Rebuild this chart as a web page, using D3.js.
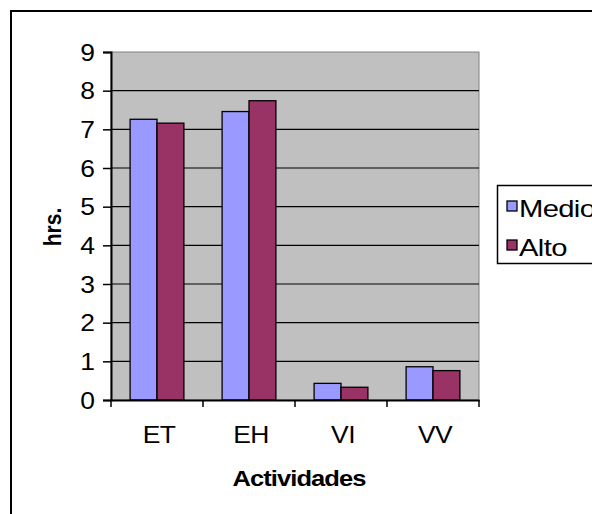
<!DOCTYPE html>
<html>
<head>
<meta charset="utf-8">
<script src="https://cdn.jsdelivr.net/npm/d3@7"></script>
<style>
  html, body { margin: 0; padding: 0; background: #fff; overflow: hidden; }
  svg { display: block; font-family: "Liberation Sans", Arial, sans-serif; }
</style>
</head>
<body>
<svg id="chart" width="592" height="514"></svg>
<script>
// Hours per activity, split by level
const categories = ["ET", "EH", "VI", "VV"];
const seriesNames = ["Medio", "Alto"];
const medio = [7.26, 7.46, 0.43, 0.86];
const alto = [7.16, 7.74, 0.33, 0.76];
const yTicks = [0, 1, 2, 3, 4, 5, 6, 7, 8, 9];
const colors = ["#9999FF", "#993366"];

const svg = d3.select("#chart");
const plot = { left: 111, top: 52, right: 479, bottom: 400 };
const sx = 1.15; // horizontal stretch applied to text glyphs
const fs = "23px";

const x0 = d3.scaleBand().domain(categories).range([plot.left, plot.right]).paddingInner(0).paddingOuter(0);
const x1 = d3.scaleBand().domain(seriesNames).range([0, x0.bandwidth()]).paddingInner(0).paddingOuter(0.71);
const y = d3.scaleLinear().domain([0, 9]).range([plot.bottom, plot.top]);

// outer chart frame
svg.append("rect").attr("x", 11).attr("y", 11).attr("width", 700).attr("height", 700)
  .attr("fill", "#fff").attr("stroke", "#000").attr("stroke-width", 2);

// plot background
svg.append("rect").attr("x", plot.left).attr("y", plot.top)
  .attr("width", plot.right - plot.left).attr("height", plot.bottom - plot.top)
  .attr("fill", "#C0C0C0").attr("stroke", "#808080").attr("stroke-width", 1);

// gridlines
svg.append("g").selectAll("line").data(yTicks.filter(d => d > 0 && d < 9)).join("line")
  .attr("x1", plot.left).attr("x2", plot.right)
  .attr("y1", d => y(d)).attr("y2", d => y(d))
  .attr("stroke", "#000").attr("stroke-width", 1.2);

// bars
const rows = categories.map((c, i) => ({ cat: c, vals: [medio[i], alto[i]] }));
const groups = svg.append("g").selectAll("g").data(rows).join("g")
  .attr("transform", d => `translate(${x0(d.cat)},0)`);
groups.selectAll("rect").data(d => d.vals.map((v, j) => ({ key: seriesNames[j], v, j }))).join("rect")
  .attr("x", d => x1(d.key)).attr("width", x1.bandwidth())
  .attr("y", d => y(d.v)).attr("height", d => y(0) - y(d.v))
  .attr("fill", d => colors[d.j]).attr("stroke", "#000").attr("stroke-width", 1.3);

// y axis
const yAxis = svg.append("g").attr("transform", `translate(${plot.left},0)`)
  .call(d3.axisLeft(y).tickValues(yTicks).tickSize(8).tickFormat(d3.format("d")));
yAxis.select(".domain").attr("stroke", "#000").attr("stroke-width", 2);
yAxis.selectAll(".tick line").attr("stroke", "#000").attr("stroke-width", 1.5);
yAxis.selectAll(".tick text").remove();
yAxis.selectAll(".tick").append("text")
  .attr("transform", `translate(-16,8) scale(${sx},1)`)
  .attr("text-anchor", "end").attr("fill", "#000")
  .style("font-size", fs).text(d => d);

// x axis
const xAxis = svg.append("g").attr("transform", `translate(0,${plot.bottom})`)
  .call(d3.axisBottom(x0).tickSize(0).tickFormat(""));
xAxis.select(".domain").attr("stroke", "#000").attr("stroke-width", 2);
const bounds = d3.range(categories.length + 1).map(i => plot.left + i * x0.bandwidth());
xAxis.append("g").selectAll("line").data(bounds).join("line")
  .attr("x1", d => d).attr("x2", d => d).attr("y1", 0).attr("y2", 7)
  .attr("stroke", "#000").attr("stroke-width", 1.5);
xAxis.append("g").selectAll("text").data(categories).join("text")
  .attr("transform", d => `translate(${x0(d) + x0.bandwidth() / 2 + 2},43) scale(${sx},1)`)
  .attr("text-anchor", "middle").attr("fill", "#000").style("letter-spacing", "-0.5px")
  .style("font-size", fs).text(d => d);

// axis titles
svg.append("text")
  .attr("transform", `translate(299,486) scale(1.16,1)`)
  .attr("text-anchor", "middle").style("font-size", "22px").style("font-weight", "bold")
  .style("letter-spacing", "-0.8px")
  .text("Actividades");
svg.append("text")
  .attr("transform", `translate(61,227) scale(1.15,1) rotate(-90)`)
  .attr("text-anchor", "middle").style("font-size", "21px").style("font-weight", "bold")
  .text("hrs.");

// legend
const legend = svg.append("g");
legend.append("rect").attr("x", 497.5).attr("y", 185.5).attr("width", 200).attr("height", 78)
  .attr("fill", "#fff").attr("stroke", "#000").attr("stroke-width", 1.5);
const items = legend.selectAll("g.item").data(seriesNames).join("g").attr("class", "item")
  .attr("transform", (d, i) => `translate(507,${201 + i * 39})`);
items.append("rect").attr("width", 10).attr("height", 10)
  .attr("fill", (d, i) => colors[i]).attr("stroke", "#000").attr("stroke-width", 1.3);
items.append("text").attr("transform", `translate(12,16) scale(1.27,1)`)
  .style("font-size", fs).style("letter-spacing", "-0.5px").attr("fill", "#000").text(d => d);
</script>
</body>
</html>
